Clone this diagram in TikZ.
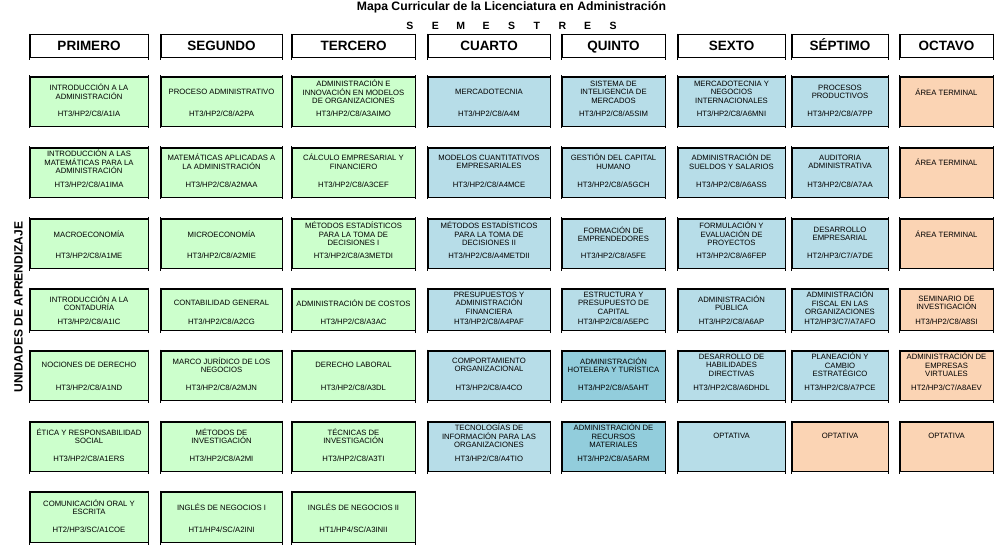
\documentclass[tikz,border=0pt]{standalone}
\usepackage{fontspec}
\setmainfont{Liberation Sans}
\usetikzlibrary{calc}
\definecolor{gr}{HTML}{CCFFCC}
\definecolor{bl}{HTML}{B7DDE8}
\definecolor{db}{HTML}{92CDDC}
\definecolor{pc}{HTML}{FBD4B4}
% column geometry
\def\setcol#1#2#3{\expandafter\def\csname cl#1\endcsname{#2}\expandafter\def\csname cr#1\endcsname{#3}}
\setcol{1}{30}{148}
\setcol{2}{161}{282}
\setcol{3}{292}{415}
\setcol{4}{428}{550}
\setcol{5}{562}{665}
\setcol{6}{678}{785}
\setcol{7}{792}{888}
\setcol{8}{900}{993}
% row geometry: top, height, title offset, code offset
\def\setrow#1#2#3#4#5{\expandafter\def\csname rt#1\endcsname{#2}\expandafter\def\csname rh#1\endcsname{#3}\expandafter\def\csname ro#1\endcsname{#4}\expandafter\def\csname rc#1\endcsname{#5}}
\setrow{1}{77}{49}{15}{37}
\setrow{2}{148}{49}{14}{37}
\setrow{3}{219}{49}{15}{37}
\setrow{4}{289}{41}{14}{33}
\setrow{5}{351}{49}{14}{37}
\setrow{6}{422}{49}{14}{37}
\setrow{7}{492}{50}{15}{38}
\newcommand\ucellgeom[3]{%
  \pgfmathsetmacro\ucx{(\csname cl#1\endcsname+\csname cr#1\endcsname)/2}%
  \pgfmathsetmacro\ucw{\csname cr#1\endcsname-\csname cl#1\endcsname}%
  \pgfmathsetmacro\ucy{\csname rt#2\endcsname}%
  \pgfmathsetmacro\uch{\csname rh#2\endcsname}%
  \node[cellbox, fill=#3, minimum width=\ucw pt, minimum height=\uch pt] (c#1r#2) at (\ucx,\ucy) {};%
  \draw[edgeline] ([xshift=-0.5pt]c#1r#2.north west) -- ([xshift=0.5pt]c#1r#2.north east);%
  \draw[edgeline] ([xshift=-0.5pt]c#1r#2.south west) -- ([xshift=0.5pt]c#1r#2.south east);%
  \draw[tickline] ([yshift=1.5pt]c#1r#2.north west) -- ([yshift=-2pt]c#1r#2.south west);%
  \draw[tickline] ([yshift=1.5pt]c#1r#2.north east) -- ([yshift=-2pt]c#1r#2.south east);%
}
\newcommand\ucell[5]{\ucellgeom{#1}{#2}{#3}%
  \pgfmathsetmacro\uco{\csname ro#2\endcsname}%
  \pgfmathsetmacro\ucc{\csname rc#2\endcsname}%
  \node[ttl] (c#1r#2t) at ($(c#1r#2.north)+(0,\uco)$) {#4};%
  \node[cod] (c#1r#2c) at ($(c#1r#2.north)+(0,\ucc)$) {#5};}
\newcommand\ucellx[4]{\ucellgeom{#1}{#2}{#3}%
  \pgfmathsetmacro\uco{\csname ro#2\endcsname}%
  \node[ttl] (c#1r#2t) at ($(c#1r#2.north)+(0,\uco)$) {#4};}
\newcommand\uhdr[2]{%
  \pgfmathsetmacro\ucx{(\csname cl#1\endcsname+\csname cr#1\endcsname)/2}%
  \pgfmathsetmacro\ucw{\csname cr#1\endcsname-\csname cl#1\endcsname}%
  \node[hdr, minimum width=\ucw pt] (h#1) at (\ucx,34) {#2};%
  \draw[hdredge] ([yshift=0.3pt]h#1.north west) -- ([yshift=-2.5pt]h#1.south west);%
  \draw[hdredge] ([yshift=0.3pt]h#1.north east) -- ([yshift=-2.5pt]h#1.south east);%
}
\begin{document}
\begin{tikzpicture}[x=1pt,y=-1pt,
  cellbox/.style={draw=black, line width=0.5pt, anchor=north, inner sep=0pt},
  edgeline/.style={line width=1.1pt, black},
  tickline/.style={line width=0.6pt, black},
  hdr/.style={draw=black, line width=0.6pt, anchor=north, minimum height=23pt, inner sep=0pt,
    font=\fontsize{13.5}{15}\selectfont\bfseries, text height=9.7pt, text depth=0pt},
  hdredge/.style={line width=1.1pt, black},
  ttl/.style={font=\fontsize{7.7}{8.6}\selectfont, align=center, inner sep=0pt},
  cod/.style={font=\fontsize{7.7}{8.6}\selectfont, inner sep=0pt, text height=5.5pt, text depth=0pt},
]
\useasboundingbox (0,0) rectangle (1003,545);
\fill[white] (0,0) rectangle (1003,545);
\node[font=\fontsize{12.2}{14}\selectfont\bfseries, anchor=base, inner sep=0pt] (title) at (511.5,10.5) {Mapa Curricular de la Licenciatura en Administración};
\node[font=\fontsize{10.5}{12}\selectfont\bfseries, anchor=base, inner sep=0pt] (sem) at (511.5,30)
  {\makebox[25.4pt]{S}\makebox[25.4pt]{E}\makebox[25.4pt]{M}\makebox[25.4pt]{E}\makebox[25.4pt]{S}\makebox[25.4pt]{T}\makebox[25.4pt]{R}\makebox[25.4pt]{E}\makebox[25.4pt]{S}};
\node[font=\fontsize{12}{14}\selectfont\bfseries, rotate=90, inner sep=0pt] (ua) at (18.5,307) {UNIDADES DE APRENDIZAJE};
% headers
\uhdr{1}{PRIMERO}
\uhdr{2}{SEGUNDO}
\uhdr{3}{TERCERO}
\uhdr{4}{CUARTO}
\uhdr{5}{QUINTO}
\uhdr{6}{SEXTO}
\uhdr{7}{SÉPTIMO}
\uhdr{8}{OCTAVO}
% column 1
\ucell{1}{1}{gr}{INTRODUCCIÓN A LA\\ADMINISTRACIÓN}{HT3/HP2/C8/A1IA}
\ucell{1}{2}{gr}{INTRODUCCIÓN A LAS\\MATEMÁTICAS PARA LA\\ADMINISTRACIÓN}{HT3/HP2/C8/A1IMA}
\ucell{1}{3}{gr}{MACROECONOMÍA}{HT3/HP2/C8/A1ME}
\ucell{1}{4}{gr}{INTRODUCCIÓN A LA\\CONTADURÍA}{HT3/HP2/C8/A1IC}
\ucell{1}{5}{gr}{NOCIONES DE DERECHO}{HT3/HP2/C8/A1ND}
\ucell{1}{6}{gr}{ÉTICA Y RESPONSABILIDAD\\SOCIAL}{HT3/HP2/C8/A1ERS}
\ucell{1}{7}{gr}{COMUNICACIÓN ORAL Y\\ESCRITA}{HT2/HP3/SC/A1COE}
% column 2
\ucell{2}{1}{gr}{PROCESO ADMINISTRATIVO}{HT3/HP2/C8/A2PA}
\ucell{2}{2}{gr}{MATEMÁTICAS APLICADAS A\\LA ADMINISTRACIÓN}{HT3/HP2/C8/A2MAA}
\ucell{2}{3}{gr}{MICROECONOMÍA}{HT3/HP2/C8/A2MIE}
\ucell{2}{4}{gr}{CONTABILIDAD GENERAL}{HT3/HP2/C8/A2CG}
\ucell{2}{5}{gr}{MARCO JURÍDICO DE LOS\\NEGOCIOS}{HT3/HP2/C8/A2MJN}
\ucell{2}{6}{gr}{MÉTODOS DE\\INVESTIGACIÓN}{HT3/HP2/C8/A2MI}
\ucell{2}{7}{gr}{INGLÉS DE NEGOCIOS I}{HT1/HP4/SC/A2INI}
% column 3
\ucell{3}{1}{gr}{ADMINISTRACIÓN E\\INNOVACIÓN EN MODELOS\\DE ORGANIZACIONES}{HT3/HP2/C8/A3AIMO}
\ucell{3}{2}{gr}{CÁLCULO EMPRESARIAL Y\\FINANCIERO}{HT3/HP2/C8/A3CEF}
\ucell{3}{3}{gr}{MÉTODOS ESTADÍSTICOS\\PARA LA TOMA DE\\DECISIONES I}{HT3/HP2/C8/A3METDI}
\ucell{3}{4}{gr}{ADMINISTRACIÓN DE COSTOS}{HT3/HP2/C8/A3AC}
\ucell{3}{5}{gr}{DERECHO LABORAL}{HT3/HP2/C8/A3DL}
\ucell{3}{6}{gr}{TÉCNICAS DE\\INVESTIGACIÓN}{HT3/HP2/C8/A3TI}
\ucell{3}{7}{gr}{INGLÉS DE NEGOCIOS II}{HT1/HP4/SC/A3INII}
% column 4
\ucell{4}{1}{bl}{MERCADOTECNIA}{HT3/HP2/C8/A4M}
\ucell{4}{2}{bl}{MODELOS CUANTITATIVOS\\EMPRESARIALES}{HT3/HP2/C8/A4MCE}
\ucell{4}{3}{bl}{MÉTODOS ESTADÍSTICOS\\PARA LA TOMA DE\\DECISIONES II}{HT3/HP2/C8/A4METDII}
\ucell{4}{4}{bl}{PRESUPUESTOS Y\\ADMINISTRACIÓN\\FINANCIERA}{HT3/HP2/C8/A4PAF}
\ucell{4}{5}{bl}{COMPORTAMIENTO\\ORGANIZACIONAL}{HT3/HP2/C8/A4CO}
\ucell{4}{6}{bl}{TECNOLOGÍAS DE\\INFORMACIÓN PARA LAS\\ORGANIZACIONES}{HT3/HP2/C8/A4TIO}
% column 5
\ucell{5}{1}{bl}{SISTEMA DE\\INTELIGENCIA DE\\MERCADOS}{HT3/HP2/C8/A5SIM}
\ucell{5}{2}{bl}{GESTIÓN DEL CAPITAL\\HUMANO}{HT3/HP2/C8/A5GCH}
\ucell{5}{3}{bl}{FORMACIÓN DE\\EMPRENDEDORES}{HT3/HP2/C8/A5FE}
\ucell{5}{4}{bl}{ESTRUCTURA Y\\PRESUPUESTO DE\\CAPITAL}{HT3/HP2/C8/A5EPC}
\ucell{5}{5}{db}{ADMINISTRACIÓN\\HOTELERA Y TURÍSTICA}{HT3/HP2/C8/A5AHT}
\ucell{5}{6}{db}{ADMINISTRACIÓN DE\\RECURSOS\\MATERIALES}{HT3/HP2/C8/A5ARM}
% column 6
\ucell{6}{1}{bl}{MERCADOTECNIA Y\\NEGOCIOS\\INTERNACIONALES}{HT3/HP2/C8/A6MNI}
\ucell{6}{2}{bl}{ADMINISTRACIÓN DE\\SUELDOS Y SALARIOS}{HT3/HP2/C8/A6ASS}
\ucell{6}{3}{bl}{FORMULACIÓN Y\\EVALUACIÓN DE\\PROYECTOS}{HT3/HP2/C8/A6FEP}
\ucell{6}{4}{bl}{ADMINISTRACIÓN\\PÚBLICA}{HT3/HP2/C8/A6AP}
\ucell{6}{5}{bl}{DESARROLLO DE\\HABILIDADES\\DIRECTIVAS}{HT3/HP2/C8/A6DHDL}
\ucellx{6}{6}{bl}{OPTATIVA}
% column 7
\ucell{7}{1}{bl}{PROCESOS\\PRODUCTIVOS}{HT3/HP2/C8/A7PP}
\ucell{7}{2}{bl}{AUDITORIA\\ADMINISTRATIVA}{HT3/HP2/C8/A7AA}
\ucell{7}{3}{bl}{DESARROLLO\\EMPRESARIAL}{HT2/HP3/C7/A7DE}
\ucell{7}{4}{bl}{ADMINISTRACIÓN\\FISCAL EN LAS\\ORGANIZACIONES}{HT2/HP3/C7/A7AFO}
\ucell{7}{5}{bl}{PLANEACIÓN Y\\CAMBIO\\ESTRATÉGICO}{HT3/HP2/C8/A7PCE}
\ucellx{7}{6}{pc}{OPTATIVA}
% column 8
\ucellx{8}{1}{pc}{ÁREA TERMINAL}
\ucellx{8}{2}{pc}{ÁREA TERMINAL}
\ucellx{8}{3}{pc}{ÁREA TERMINAL}
\ucell{8}{4}{pc}{SEMINARIO DE\\INVESTIGACIÓN}{HT3/HP2/C8/A8SI}
\ucell{8}{5}{pc}{ADMINISTRACIÓN DE\\EMPRESAS\\VIRTUALES}{HT2/HP3/C7/A8AEV}
\ucellx{8}{6}{pc}{OPTATIVA}
\end{tikzpicture}
\end{document}
